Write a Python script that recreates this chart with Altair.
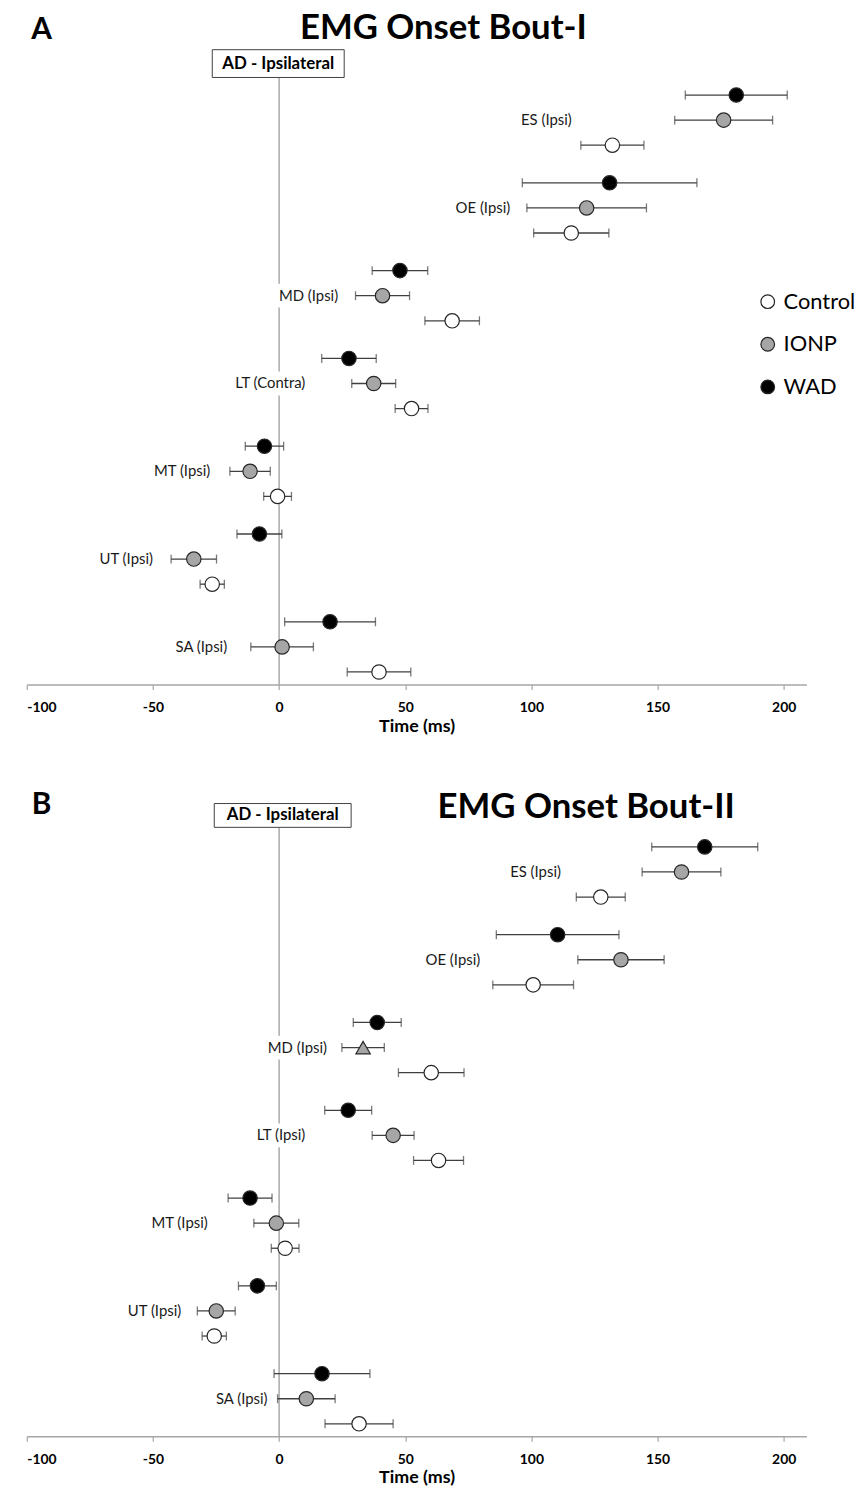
import altair as alt
import pandas as pd

# ---------------- data ----------------
groups = ["Control", "IONP", "WAD"]

# Panel A (Bout-I), bottom to top
muscles_a = ["SA (Ipsi)", "UT (Ipsi)", "MT (Ipsi)", "LT (Contra)", "MD (Ipsi)", "OE (Ipsi)", "ES (Ipsi)"]
a_control_mean = [39.6, -26.5, -0.6, 52.5, 68.6, 115.8, 132.1]
a_control_err = [12.6, 4.8, 5.5, 6.5, 10.8, 14.9, 12.5]
a_ionp_mean = [1.2, -33.8, -11.5, 37.5, 41.0, 121.9, 176.2]
a_ionp_err = [12.4, 9.0, 8.0, 8.7, 10.7, 23.7, 19.4]
a_wad_mean = [20.2, -7.8, -5.8, 27.7, 47.9, 131.0, 181.2]
a_wad_err = [18.0, 8.9, 7.6, 10.8, 11.0, 34.6, 20.2]
a_label_x = [-20.6, -50.0, -27.3, 10.4, 23.4, 91.6, 116.0]

# Panel B (Bout-II), bottom to top
muscles_b = ["SA (Ipsi)", "UT (Ipsi)", "MT (Ipsi)", "LT (Ipsi)", "MD (Ipsi)", "OE (Ipsi)", "ES (Ipsi)"]
b_control_mean = [31.7, -25.7, 2.4, 63.2, 60.3, 100.7, 127.5]
b_control_err = [13.5, 4.8, 5.5, 9.9, 13.0, 16.0, 9.7]
b_ionp_mean = [10.8, -24.9, -1.1, 45.2, 33.3, 135.5, 159.5]
b_ionp_err = [11.4, 7.5, 8.9, 8.3, 8.4, 17.1, 15.6]
b_wad_mean = [17.0, -8.6, -11.5, 27.4, 38.9, 110.4, 168.7]
b_wad_err = [19.0, 7.5, 8.7, 9.3, 9.5, 24.3, 21.0]
b_label_x = [-4.6, -38.8, -28.3, 10.4, 19.0, 79.7, 111.7]
b_triangle = ("MD (Ipsi)", "IONP")

tick_values = [-100, -50, 0, 50, 100, 150, 200]

FILLS = ["#ffffff", "#a6a6a6", "#000000"]
FONT = "Lato"
W, H = 786, 612
PX_PER_MS = W / 309.0


def build_df(muscles, means, errs, triangle=None):
    rows = []
    for gi, m in enumerate(muscles):
        for k, grp in enumerate(groups):
            mu = means[grp][gi]
            e = errs[grp][gi]
            rows.append(dict(muscle=m, group=grp, row=gi * 3.5 + k, mean=mu,
                             lo=mu - e, hi=mu + e,
                             marker="triangle-up" if triangle == (m, grp) else "circle"))
    return pd.DataFrame(rows)


def label_df(muscles, label_x):
    return pd.DataFrame({
        "muscle": muscles, "lx": label_x,
        "bg_l": [x - (len(m) * 6.2 + 6) / PX_PER_MS for m, x in zip(muscles, label_x)],
        "bg_r": [x + 4 / PX_PER_MS for x in label_x],
        "row": [gi * 3.5 + 1 for gi in range(len(muscles))]})


def panel(df, ldf, letter, letter_y, title, title_x, title_y, box, show_legend):
    xscale = alt.Scale(domain=[-100, 209], nice=False, zero=False)
    yscale = alt.Scale(domain=[-0.5, 23.7], nice=False, zero=False)
    xaxis = alt.Axis(values=tick_values, title="Time (ms)", grid=False,
                     labelExpr="'' + datum.value",
                     domainColor="#a6a6a6", domainWidth=1.5, tickColor="#a6a6a6",
                     tickSize=5, tickWidth=1.2, labelFont=FONT, labelFontWeight="bold",
                     labelFontSize=14, labelColor="#000", labelPadding=11,
                     titleFont=FONT, titleFontWeight="bold", titleFontSize=18,
                     titleColor="#000", titlePadding=3)
    y = alt.Y("row:Q", scale=yscale, axis=None)
    base = alt.Chart(df)

    one = pd.DataFrame({"t": [0]})
    vline = alt.Chart(one).mark_rule(color="#9a9a9a", strokeWidth=1.3).encode(
        x=alt.X("t:Q", scale=xscale, axis=xaxis), y=alt.value(box[3]), y2=alt.value(H))

    rect = alt.Chart(one).mark_rect(fill="white", stroke="#404040", strokeWidth=1).encode(
        x=alt.value(box[0]), x2=alt.value(box[1]), y=alt.value(box[2]), y2=alt.value(box[3]))
    boxtext = alt.Chart(pd.DataFrame({"s": ["AD - Ipsilateral"]})).mark_text(
        font=FONT, fontWeight="bold", fontSize=17, color="#000", baseline="middle", align="center"
    ).encode(text="s:N", x=alt.value((box[0] + box[1]) / 2), y=alt.value((box[2] + box[3]) / 2))

    label_bg = alt.Chart(ldf).mark_rule(color="white", strokeWidth=24, strokeCap="butt").encode(
        x=alt.X("bg_l:Q", scale=xscale, axis=xaxis), x2="bg_r:Q", y=y)
    labels = alt.Chart(ldf).mark_text(font=FONT, fontSize=15, color="#1a1a1a",
                                      align="right", baseline="middle").encode(
        x=alt.X("lx:Q", scale=xscale, axis=xaxis), y=y, text="muscle:N")

    bars = base.mark_rule(color="#404040", strokeWidth=1.3).encode(
        x=alt.X("lo:Q", scale=xscale, axis=xaxis), x2="hi:Q", y=y)
    capl = base.mark_tick(orient="vertical", size=9, thickness=1.3, color="#404040").encode(
        x=alt.X("lo:Q", scale=xscale, axis=xaxis), y=y)
    capr = base.mark_tick(orient="vertical", size=9, thickness=1.3, color="#404040").encode(
        x=alt.X("hi:Q", scale=xscale, axis=xaxis), y=y)

    if show_legend:
        leg = alt.Legend(title=None, orient="none", legendX=736, legendY=215,
                         labelFont=FONT, labelFontSize=22, labelColor="#000",
                         symbolType="circle", symbolSize=190, symbolStrokeColor="#262626",
                         symbolStrokeWidth=1.2, rowPadding=21, labelOffset=5)
    else:
        leg = None
    fill = alt.Fill("group:N", scale=alt.Scale(domain=groups, range=FILLS), legend=leg)
    pts = base.mark_point(filled=True, size=210, stroke="#262626", strokeWidth=1.2,
                          opacity=1).encode(
        x=alt.X("mean:Q", scale=xscale, axis=xaxis), y=y, fill=fill,
        shape=alt.Shape("marker:N", scale=None))

    lt = alt.Chart(pd.DataFrame({"s": [letter]})).mark_text(
        font=FONT, fontWeight="bold", fontSize=30, color="#000", align="center", baseline="middle"
    ).encode(text="s:N", x=alt.value(15), y=alt.value(letter_y))
    tt = alt.Chart(pd.DataFrame({"s": [title]})).mark_text(
        font=FONT, fontWeight="bold", fontSize=35, color="#000", align="center", baseline="middle"
    ).encode(text="s:N", x=alt.value(title_x), y=alt.value(title_y))

    return alt.layer(vline, rect, boxtext, label_bg, labels, bars, capl, capr, pts, lt, tt).properties(
        width=W, height=H)


df_a = build_df(muscles_a,
                {"Control": a_control_mean, "IONP": a_ionp_mean, "WAD": a_wad_mean},
                {"Control": a_control_err, "IONP": a_ionp_err, "WAD": a_wad_err})
df_b = build_df(muscles_b,
                {"Control": b_control_mean, "IONP": b_ionp_mean, "WAD": b_wad_mean},
                {"Control": b_control_err, "IONP": b_ionp_err, "WAD": b_wad_err},
                triangle=b_triangle)

pa = panel(df_a, label_df(muscles_a, a_label_x), "A", -48, "EMG Onset Bout-I", 420, -50,
           (187, 320, -28, 0), True)
pb = panel(df_b, label_df(muscles_b, b_label_x), "B", -24, "EMG Onset Bout-II", 564, -22,
           (189, 327, -26, -2), False)

chart = alt.vconcat(pa, pb, spacing=54).resolve_scale(fill="independent").properties(
    padding={"left": 25, "top": 4, "right": 0, "bottom": 0},
    background="white"
).configure_view(stroke="transparent")

chart.save("out.html", embed_options={"renderer": "svg", "actions": False})
